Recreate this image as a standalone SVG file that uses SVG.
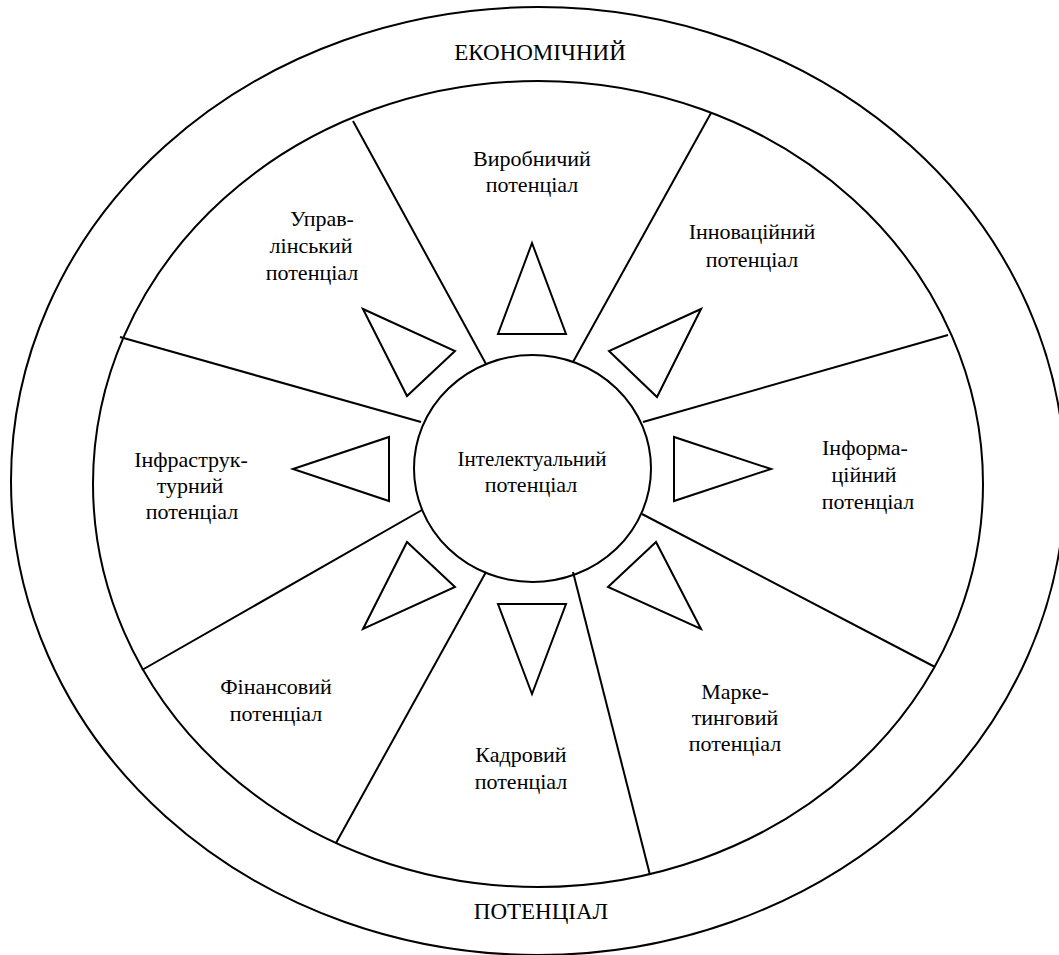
<svg xmlns="http://www.w3.org/2000/svg" width="1059" height="955" viewBox="0 0 1059 955">
<style>
.sh{fill:none;stroke:#000;stroke-width:2}
.ln{stroke:#000;stroke-width:2;fill:none}
.tr{fill:#fff;stroke:#000;stroke-width:2;stroke-linejoin:miter}
.t{font-family:'Liberation Serif','Times New Roman',serif;font-size:22px;fill:#000;text-anchor:middle}
.big{font-size:23px}
</style>
<rect width="1059" height="955" fill="#fff"/>
<g id="outer">
<ellipse class="sh" cx="538" cy="481" rx="527" ry="474"/>
<text class="t big" x="540" y="60">ЕКОНОМІЧНИЙ</text>
<text class="t big" x="541" y="919">ПОТЕНЦІАЛ</text>
</g>
<g id="inner">
<ellipse class="sh" cx="538" cy="484" rx="445" ry="403"/>
</g>
<g id="connectors">
<line class="ln" x1="486" y1="364" x2="353" y2="121"/>
<line class="ln" x1="573" y1="362" x2="711" y2="113"/>
<line class="ln" x1="643" y1="422" x2="948" y2="335"/>
<line class="ln" x1="642" y1="514" x2="935" y2="667"/>
<line class="ln" x1="573" y1="572" x2="650" y2="875"/>
<line class="ln" x1="486" y1="572" x2="336" y2="843"/>
<line class="ln" x1="422" y1="510" x2="142" y2="670"/>
<line class="ln" x1="421" y1="422" x2="120" y2="337"/>
</g>
<g id="arrows">
<polygon class="tr" points="532,243 498,334 566,334"/>
<polygon class="tr" points="363,309 455,351 407,396"/>
<polygon class="tr" points="701,309 609,351 657,397"/>
<polygon class="tr" points="293,469 389,437 389,501"/>
<polygon class="tr" points="771,469 674,437 674,501"/>
<polygon class="tr" points="407,542 455,587 363,629"/>
<polygon class="tr" points="656,542 608,587 701,629"/>
<polygon class="tr" points="498,604 566,604 532,694"/>
</g>
<g id="center">
<ellipse class="sh" cx="532.5" cy="468.5" rx="118.5" ry="113.5" fill="#fff"/>
<text class="t" x="532" y="466" textLength="149" lengthAdjust="spacingAndGlyphs">Інтелектуальний</text>
<text class="t" x="531" y="492">потенціал</text>
</g>
<g id="vyrobnychyi">
<text class="t" x="532" y="166">Виробничий</text>
<text class="t" x="532" y="192">потенціал</text>
</g>
<g id="upravlinskyi">
<text class="t" x="322" y="226">Управ-</text>
<text class="t" x="311" y="253">лінський</text>
<text class="t" x="312" y="280">потенціал</text>
</g>
<g id="innovatsiinyi">
<text class="t" x="752" y="239">Інноваційний</text>
<text class="t" x="752" y="267">потенціал</text>
</g>
<g id="infrastrukturnyi">
<text class="t" x="191" y="467">Інфраструк-</text>
<text class="t" x="190" y="493">турний</text>
<text class="t" x="192" y="519">потенціал</text>
</g>
<g id="informatsiinyi">
<text class="t" x="865" y="455">Інформа-</text>
<text class="t" x="864" y="482">ційний</text>
<text class="t" x="868" y="509">потенціал</text>
</g>
<g id="finansovyi">
<text class="t" x="276" y="694">Фінансовий</text>
<text class="t" x="276" y="721">потенціал</text>
</g>
<g id="kadrovyi">
<text class="t" x="521" y="762">Кадровий</text>
<text class="t" x="521" y="789">потенціал</text>
</g>
<g id="marketyngovyi">
<text class="t" x="735" y="699">Марке-</text>
<text class="t" x="735" y="725">тинговий</text>
<text class="t" x="735" y="751">потенціал</text>
</g>
</svg>
